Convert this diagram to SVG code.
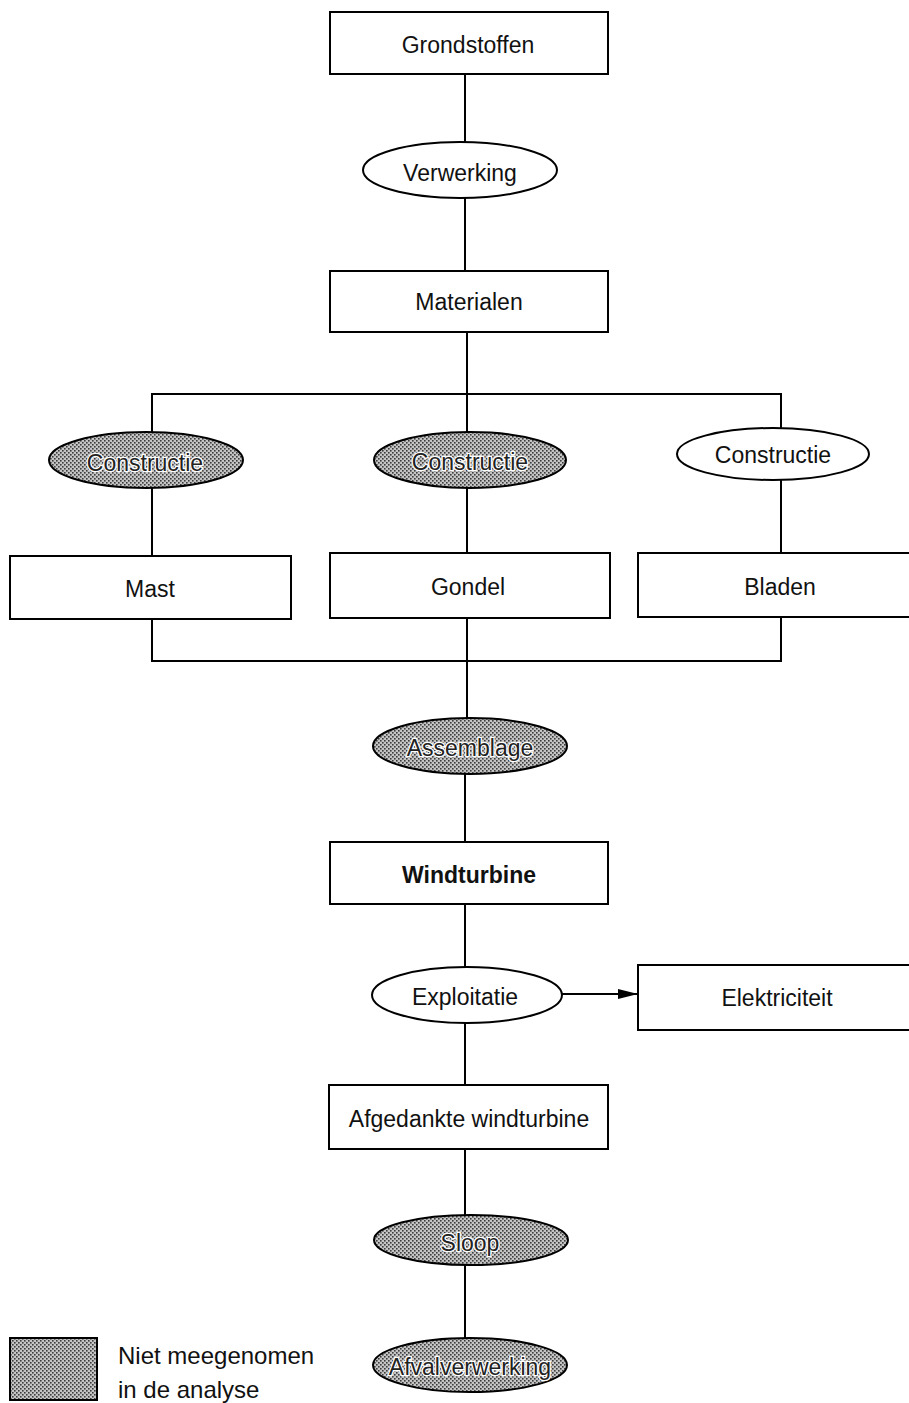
<svg xmlns="http://www.w3.org/2000/svg" width="909" height="1403" viewBox="0 0 909 1403">
<defs>
<pattern id="dots" width="4" height="4" patternUnits="userSpaceOnUse">
<rect width="4" height="4" fill="#c4c4c4"/>
<rect x="0" y="0" width="1.6" height="1.6" fill="#3c3c3c"/>
<rect x="2" y="2" width="1.6" height="1.6" fill="#3c3c3c"/>
</pattern>
<marker id="arrow" viewBox="0 0 20 10" refX="20" refY="5" markerWidth="20" markerHeight="10" markerUnits="userSpaceOnUse" orient="auto">
<path d="M0,0 L20,5 L0,10 Z" fill="#000"/>
</marker>
</defs>
<style>
.box{fill:#fff;stroke:#000;stroke-width:2}
.ell{fill:#fff;stroke:#000;stroke-width:2}
.shade{fill:url(#dots);stroke:#000;stroke-width:2}
.t{font-family:"Liberation Sans",Arial,sans-serif;font-size:23px;fill:#111;text-anchor:middle}
.ts{font-family:"Liberation Sans",Arial,sans-serif;font-size:23px;fill:#222;text-anchor:middle;stroke:#fff;stroke-width:2.5;paint-order:stroke}
.b{font-weight:bold}
.lg{font-family:"Liberation Sans",Arial,sans-serif;font-size:24px;fill:#111}
.c{fill:none;stroke:#000;stroke-width:2}
</style>
<rect width="909" height="1403" fill="#fff"/>
<g id="connectors">
<path class="c" d="M465,74 V142"/>
<path class="c" d="M465,198 V271"/>
<path class="c" d="M467,332 V432"/>
<path class="c" d="M152,432 V394 H781 V428"/>
<path class="c" d="M152,488 V556"/>
<path class="c" d="M467,488 V553"/>
<path class="c" d="M781,480 V553"/>
<path class="c" d="M152,619 V661 H781 V617"/>
<path class="c" d="M467,618 V718"/>
<path class="c" d="M465,774 V842"/>
<path class="c" d="M465,904 V967"/>
<path class="c" d="M465,1023 V1085"/>
<path class="c" d="M465,1149 V1215"/>
<path class="c" d="M465,1265 V1338"/>
<path class="c" d="M562,994 H638" marker-end="url(#arrow)"/>
</g>
<g id="grondstoffen"><rect class="box" x="330" y="12" width="278" height="62"/><text class="t" x="468" y="53">Grondstoffen</text></g>
<g id="verwerking"><ellipse class="ell" cx="460" cy="170" rx="97" ry="28"/><text class="t" x="460" y="181">Verwerking</text></g>
<g id="materialen"><rect class="box" x="330" y="271" width="278" height="61"/><text class="t" x="469" y="310">Materialen</text></g>
<g id="constructie-mast"><ellipse class="shade" cx="146" cy="460" rx="97" ry="28"/><text class="ts" x="145" y="471">Constructie</text></g>
<g id="constructie-gondel"><ellipse class="shade" cx="470" cy="460" rx="96" ry="28"/><text class="ts" x="470" y="470">Constructie</text></g>
<g id="constructie-bladen"><ellipse class="ell" cx="773" cy="454" rx="96" ry="26"/><text class="t" x="773" y="463">Constructie</text></g>
<g id="mast"><rect class="box" x="10" y="556" width="281" height="63"/><text class="t" x="150" y="597">Mast</text></g>
<g id="gondel"><rect class="box" x="330" y="553" width="280" height="65"/><text class="t" x="468" y="595">Gondel</text></g>
<g id="bladen"><rect class="box" x="638" y="553" width="280" height="64"/><text class="t" x="780" y="595">Bladen</text></g>
<g id="assemblage"><ellipse class="shade" cx="470" cy="746" rx="97" ry="28"/><text class="ts" x="470" y="756">Assemblage</text></g>
<g id="windturbine"><rect class="box" x="330" y="842" width="278" height="62"/><text class="t b" x="469" y="883">Windturbine</text></g>
<g id="exploitatie"><ellipse class="ell" cx="467" cy="995" rx="95" ry="28"/><text class="t" x="465" y="1005">Exploitatie</text></g>
<g id="elektriciteit"><rect class="box" x="638" y="965" width="280" height="65"/><text class="t" x="777" y="1006">Elektriciteit</text></g>
<g id="afgedankte"><rect class="box" x="329" y="1085" width="279" height="64"/><text class="t" x="469" y="1127">Afgedankte windturbine</text></g>
<g id="sloop"><ellipse class="shade" cx="471" cy="1240" rx="97" ry="25"/><text class="ts" x="470" y="1251">Sloop</text></g>
<g id="afvalverwerking"><ellipse class="shade" cx="470" cy="1365" rx="97" ry="27"/><text class="ts" x="470" y="1375">Afvalverwerking</text></g>
<g id="legend"><rect class="shade" x="10" y="1338" width="87" height="62"/><text class="lg" x="118" y="1364">Niet meegenomen</text><text class="lg" x="118" y="1398">in de analyse</text></g>
</svg>
